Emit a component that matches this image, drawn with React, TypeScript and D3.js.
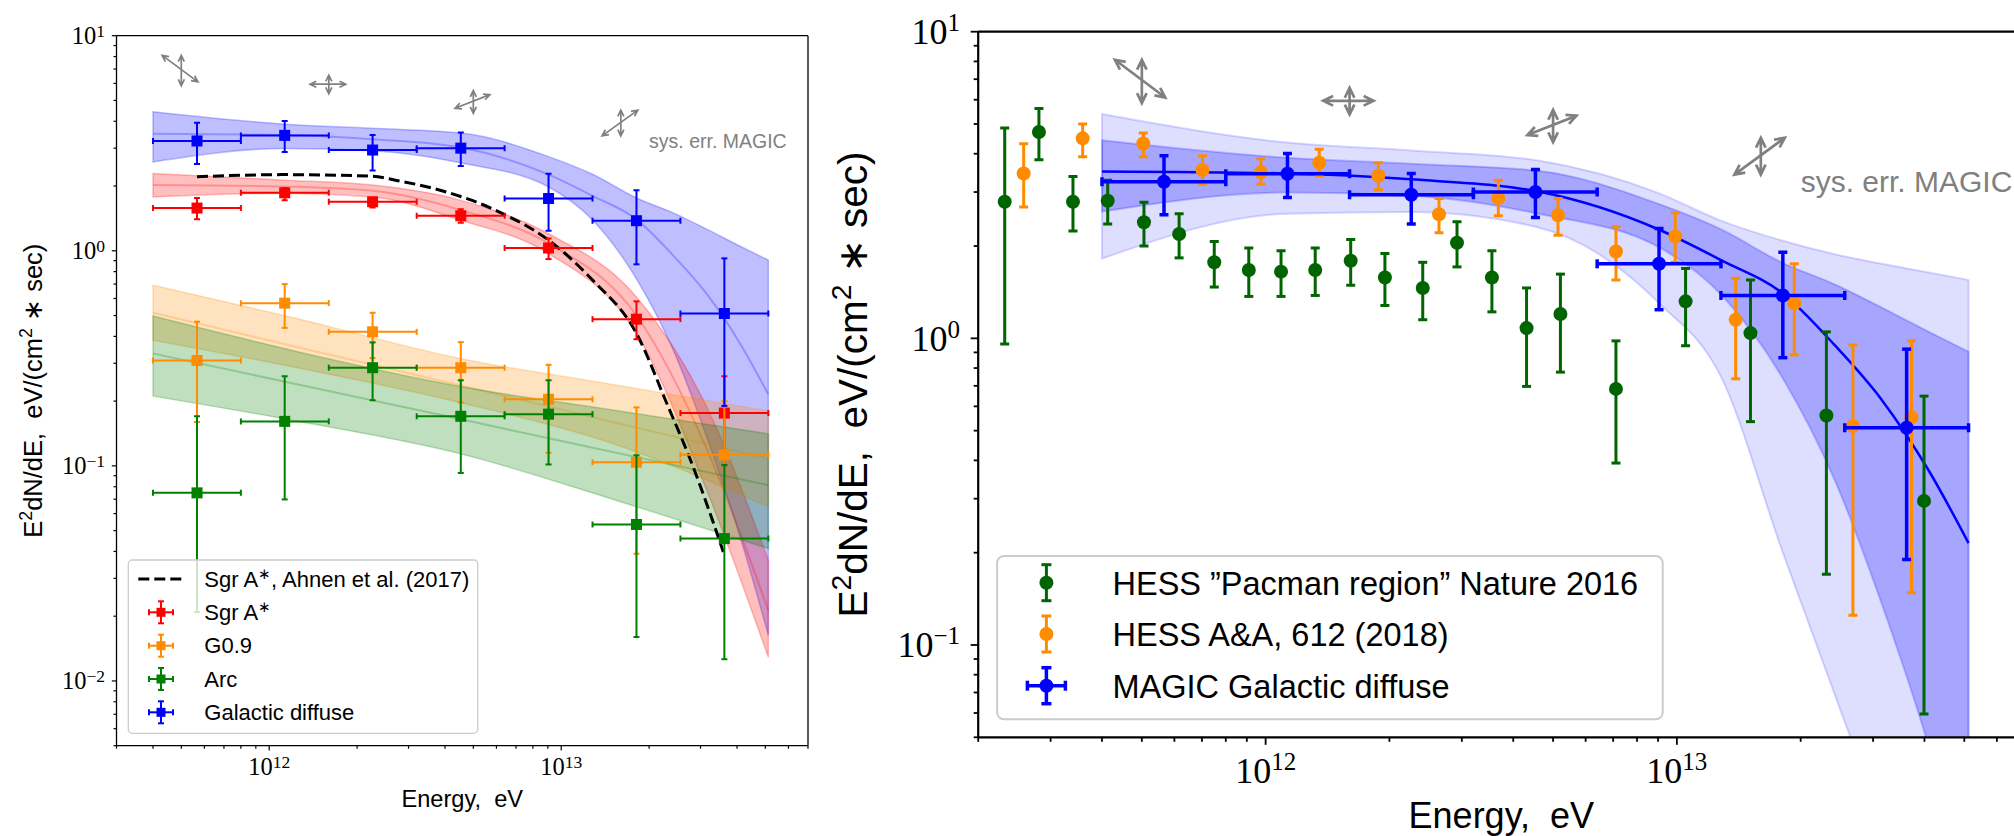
import React from "react";
import * as d3 from "d3";

// ================= MAGIC energy bins (shared by both panels) =================
const binLow = [4e11, 8e11, 1.6e12, 3.2e12, 6.4e12, 1.28e13, 2.56e13];
const binHigh = [8e11, 1.6e12, 3.2e12, 6.4e12, 1.28e13, 2.56e13, 5.12e13];
const binCenter = [5.66e11, 1.13e12, 2.26e12, 4.53e12, 9.05e12, 1.81e13, 3.62e13];

// Sgr A*
const sgrVal = [1.58, 1.86, 1.69, 1.455, 1.03, 0.481, 0.176];
const sgrHi = [1.76, 1.96, 1.75, 1.56, 1.14, 0.582, 0.261];
const sgrLo = [1.4, 1.72, 1.59, 1.35, 0.915, 0.388, 0.1007];
// G0.9
const g09Val = [0.309, 0.571, 0.42, 0.286, 0.204, 0.104, 0.1125];
const g09Hi = [0.468, 0.7, 0.515, 0.376, 0.295, 0.187, 0.2];
const g09Lo = [0.16, 0.438, 0.317, 0.197, 0.115, 0.039, 0.101];
// Arc
const arcVal = [0.0749, 0.161, 0.286, 0.17, 0.174, 0.0534, 0.0459];
const arcHi = [0.17, 0.261, 0.375, 0.25, 0.25, 0.112, 0.101];
const arcLo = [0.0209, 0.0698, 0.202, 0.0927, 0.1015, 0.016, 0.0126];
// Galactic diffuse (MAGIC)
const gdVal = [3.24, 3.44, 2.94, 3.0, 1.75, 1.38, 0.511];
const gdHi = [3.94, 4.01, 3.45, 3.55, 2.28, 1.91, 0.922];
const gdLo = [2.53, 2.88, 2.36, 2.48, 1.24, 0.865, 0.19];

// ================= fit bands =================
const gdBandE = [4e11, 1.13e12, 2.26e12, 4.6e12, 9.06e12, 1.28e13, 1.81e13, 2.42e13, 3.15e13, 4.1e13, 5.12e13];
const gdBandHi = [4.43, 3.88, 3.71, 3.52, 2.74, 2.27, 1.76, 1.5, 1.26, 1.05, 0.905];
const gdBandLo = [2.59, 2.99, 2.92, 2.55, 1.98, 1.39, 0.74, 0.345, 0.136, 0.0467, 0.0163];
const gdFit = [3.5, 3.45, 3.3, 3.01, 2.26, 1.8, 1.4, 0.95, 0.63, 0.37, 0.215];
const gdBand2Hi = [5.39, 4.35, 4.1, 3.8, 2.97, 2.42, 2.08, 1.88, 1.75, 1.64, 1.55];
const gdBand2Lo = [1.82, 2.55, 2.58, 2.3, 1.3, 0.75, 0.2, 0.069, 0.025, 0.006, 0.002];

const sgrBandE = [4e11, 1.13e12, 2.26e12, 4.5e12, 9.06e12, 1.81e13, 3.15e13, 5.12e13];
const sgrBandHi = [2.29, 2.13, 2.02, 1.72, 1.2, 0.61, 0.188, 0.0364];
const sgrBandLo = [1.78, 1.85, 1.78, 1.39, 0.97, 0.413, 0.077, 0.0129];
const sgrFit = [2.02, 1.99, 1.9, 1.55, 1.08, 0.5, 0.12, 0.0213];

const plBandE = [4e11, 1.2e12, 4.5e12, 1.5e13, 5.12e13];
const g09BandHi = [0.692, 0.49, 0.316, 0.239, 0.18];
const g09BandLo = [0.384, 0.289, 0.197, 0.127, 0.0645];
const g09Fit = [0.515, 0.361, 0.237, 0.16, 0.108];
const arcBandHi = [0.497, 0.344, 0.234, 0.182, 0.141];
const arcBandLo = [0.211, 0.163, 0.114, 0.07, 0.0413];
const arcFit = [0.333, 0.242, 0.165, 0.116, 0.0813];

// Sgr A*, Ahnen et al. (2017)
const ahnenE = [5.66e11, 1.13e12, 2.26e12, 2.8e12, 3.65e12, 6.17e12, 9.06e12, 1.28e13, 1.81e13, 2.3e13, 2.83e13, 3.59e13];
const ahnenV = [2.21, 2.26, 2.22, 2.11, 1.95, 1.51, 1.12, 0.731, 0.413, 0.195, 0.099, 0.0398];

// ================= right panel: HESS data =================
const pacE = [2.32e11, 2.81e11, 3.4e11, 4.13e11, 5.06e11, 6.16e11, 7.5e11, 9.1e11, 1.09e12, 1.32e12, 1.61e12, 1.95e12, 2.41e12, 2.92e12, 3.55e12, 4.31e12, 5.21e12, 7.11e12, 1.05e13, 1.51e13, 2.31e13, 3.99e13];
const pacVal = [2.79, 4.71, 2.79, 2.81, 2.39, 2.19, 1.77, 1.67, 1.65, 1.67, 1.79, 1.58, 1.46, 2.05, 1.58, 1.08, 1.2, 0.684, 1.32, 1.04, 0.56, 0.295];
const pacHi = [4.85, 5.62, 3.37, 3.28, 2.78, 2.55, 2.07, 1.97, 1.93, 1.97, 2.1, 1.89, 1.77, 2.4, 1.93, 1.46, 1.62, 0.981, 1.69, 1.55, 1.05, 0.648];
const pacLo = [0.959, 3.82, 2.24, 2.36, 2.0, 1.83, 1.47, 1.37, 1.37, 1.38, 1.49, 1.28, 1.15, 1.71, 1.22, 0.697, 0.776, 0.392, 0.946, 0.535, 0.17, 0.0596];

const aaE = [2.58e11, 3.59e11, 5.04e11, 7.02e11, 9.74e11, 1.35e12, 1.88e12, 2.64e12, 3.68e12, 5.14e12, 7.11e12, 9.91e12, 1.39e13, 1.93e13, 2.68e13, 3.72e13];
const aaVal = [3.45, 4.49, 4.32, 3.54, 3.48, 3.74, 3.39, 2.54, 2.87, 2.52, 1.92, 2.15, 1.15, 1.3, 0.518, 0.553];
const aaHi = [4.31, 5.0, 4.67, 3.94, 3.85, 4.14, 3.74, 2.86, 3.28, 2.86, 2.31, 2.57, 1.57, 1.75, 0.951, 0.982];
const aaLo = [2.68, 3.91, 3.91, 3.18, 3.18, 3.39, 3.05, 2.21, 2.51, 2.17, 1.55, 1.77, 0.738, 0.883, 0.125, 0.148];

// ================= systematic error glyphs (data coords) =================
const sysFromE = [4.3e11, 5.0e11, 1.38e12, 1.6e12, 4.33e12, 5.0e12, 1.38e13, 1.6e13];
const sysFromV = [8.1, 8.1, 5.95, 6.56, 4.6, 5.56, 3.42, 4.51];
const sysToE = [5.7e11, 5.0e11, 1.83e12, 1.6e12, 5.7e12, 5.0e12, 1.83e13, 1.6e13];
const sysToV = [6.1, 5.85, 5.95, 5.37, 5.32, 4.36, 4.51, 3.42];
const sysTextE = 2.0e13;
const sysTextV = 3.0;

const BLUE = "#0000ff";
const RED = "#ff0000";
const ORANGE = "#ff8c00";
const GREEN = "#008000";
const DGREEN = "#006400";
const GRAY = "#808080";
const SANS = "'Liberation Sans', Arial, sans-serif";
const SERIF = "'Liberation Serif', 'Times New Roman', serif";

function areaPath(E, lo, hi, xs, ys) {
  return (
    d3
      .area()
      .x((i) => xs(E[i]))
      .y0((i) => ys(lo[i]))
      .y1((i) => ys(hi[i]))
      .curve(d3.curveMonotoneX)(d3.range(E.length)) || ""
  );
}
function linePath(E, V, xs, ys) {
  return (
    d3
      .line()
      .x((i) => xs(E[i]))
      .y((i) => ys(V[i]))
      .curve(d3.curveMonotoneX)(d3.range(E.length)) || ""
  );
}

function dblArrow(x1, y1, x2, y2, h, ang) {
  const dx = x2 - x1, dy = y2 - y1;
  const len = Math.hypot(dx, dy);
  const ux = dx / len, uy = dy / len;
  const head = (px, py, vx, vy) => {
    const c = Math.cos(ang), s = Math.sin(ang);
    const ax = vx * c - vy * s, ay = vx * s + vy * c;
    const bx = vx * c + vy * s, by = -vx * s + vy * c;
    return `M${px + ax * h},${py + ay * h}L${px},${py}L${px + bx * h},${py + by * h}`;
  };
  return `M${x1},${y1}L${x2},${y2}` + head(x2, y2, -ux, -uy) + head(x1, y1, ux, uy);
}

function ErrPt({ cx, cy, xa, xb, ya, yb, color, lw, cap, shape, ms }) {
  return (
    <g>
      {xa !== undefined && (
        <g stroke={color} strokeWidth={lw}>
          <line x1={xa} x2={xb} y1={cy} y2={cy} />
          <line x1={xa} x2={xa} y1={cy - cap} y2={cy + cap} />
          <line x1={xb} x2={xb} y1={cy - cap} y2={cy + cap} />
        </g>
      )}
      {ya !== undefined && (
        <g stroke={color} strokeWidth={lw}>
          <line x1={cx} x2={cx} y1={ya} y2={yb} />
          <line x1={cx - cap} x2={cx + cap} y1={ya} y2={ya} />
          <line x1={cx - cap} x2={cx + cap} y1={yb} y2={yb} />
        </g>
      )}
      {shape === "square" ? (
        <rect x={cx - ms / 2} y={cy - ms / 2} width={ms} height={ms} fill={color} />
      ) : (
        <circle cx={cx} cy={cy} r={ms / 2} fill={color} />
      )}
    </g>
  );
}

const isMajor = (t) => Math.abs(Math.log10(t) - Math.round(Math.log10(t))) < 1e-9;
const expStr = (t) => {
  const e = Math.round(Math.log10(t));
  return e < 0 ? "\u2212" + Math.abs(e) : String(e);
};

function Axes({ box, xs, ys, sw, majLen, minLen, tw, xfs, xexp, xraise, xbase, yfs, yexp, yraise, yAnchorX, yOff, rightSpine }) {
  const xt = xs.ticks();
  const yt = ys.ticks();
  return (
    <g>
      <g stroke="#000" strokeWidth={tw}>
        {xt.map((t, i) => (
          <line key={"x" + i} x1={xs(t)} x2={xs(t)} y1={box.y1} y2={box.y1 + (isMajor(t) ? majLen : minLen)} />
        ))}
        {yt.map((t, i) => (
          <line key={"y" + i} x1={box.x0} x2={box.x0 - (isMajor(t) ? majLen : minLen)} y1={ys(t)} y2={ys(t)} />
        ))}
      </g>
      <g fill="none" stroke="#000" strokeWidth={sw}>
        <line x1={box.x0} x2={box.x0} y1={box.y0} y2={box.y1} />
        <line x1={box.x0} x2={box.x1} y1={box.y1} y2={box.y1} />
        <line x1={box.x0} x2={box.x1} y1={box.y0} y2={box.y0} />
        {rightSpine && <line x1={box.x1} x2={box.x1} y1={box.y0} y2={box.y1} />}
      </g>
      <g fontFamily={SERIF} fill="#000">
        {xt.filter(isMajor).map((t, i) => (
          <text key={"xl" + i} x={xs(t)} y={xbase} fontSize={xfs} textAnchor="middle">
            10
            <tspan dy={-xraise} fontSize={xexp}>{expStr(t)}</tspan>
          </text>
        ))}
        {yt.filter(isMajor).map((t, i) => (
          <text key={"yl" + i} x={yAnchorX} y={ys(t) + yOff} fontSize={yfs} textAnchor="end">
            10
            <tspan dy={-yraise} fontSize={yexp}>{expStr(t)}</tspan>
          </text>
        ))}
      </g>
    </g>
  );
}

function YLabel({ x, y, fs }) {
  const r = fs * 0.38;
  return (
    <text transform={`translate(${x},${y}) rotate(-90)`} fontSize={fs} textAnchor="middle" fontFamily={SANS} style={{ whiteSpace: "pre" }}>
      E<tspan dy={-r} fontSize={fs * 0.7}>2</tspan>
      <tspan dy={r}>dN/dE,  eV/(cm</tspan>
      <tspan dy={-r} fontSize={fs * 0.7}>2</tspan>
      <tspan dy={r}>{" \u2217 sec)"}</tspan>
    </text>
  );
}

export default function App() {
  const L = { x0: 116.5, x1: 808, y0: 35.7, y1: 745.7 };
  const R = { x0: 978.2, x1: 2024.4, y0: 31.7, y1: 737.3 };
  const xL = d3.scaleLog().domain([3e11, 7e13]).range([L.x0, L.x1]);
  const yL = d3.scaleLog().domain([0.005, 10]).range([L.y1, L.y0]);
  const xR = d3.scaleLog().domain([2e11, 7e13]).range([R.x0, R.x1]);
  const yR = d3.scaleLog().domain([0.05, 10]).range([R.y1, R.y0]);

  const leftSeries = [
    { val: sgrVal, hi: sgrHi, lo: sgrLo, color: RED },
    { val: g09Val, hi: g09Hi, lo: g09Lo, color: ORANGE },
    { val: arcVal, hi: arcHi, lo: arcLo, color: GREEN },
    { val: gdVal, hi: gdHi, lo: gdLo, color: BLUE },
  ];
  const leftBands = [
    { E: gdBandE, hi: gdBandHi, lo: gdBandLo, fit: gdFit, rgb: "0,0,255" },
    { E: sgrBandE, hi: sgrBandHi, lo: sgrBandLo, fit: sgrFit, rgb: "255,0,0" },
    { E: plBandE, hi: g09BandHi, lo: g09BandLo, fit: g09Fit, rgb: "255,140,0" },
    { E: plBandE, hi: arcBandHi, lo: arcBandLo, fit: arcFit, rgb: "0,128,0" },
  ];

  const sysIdx = d3.range(sysFromE.length);

  const legL = { x: 128.3, y: 560, w: 349.4, h: 173.3, mx: 161, tx: 204.3, rows: [579, 612.3, 645.7, 679, 712.3] };
  const legR = { x: 997.1, y: 556, w: 665.6, h: 163.3, mx: 1046.4, tx: 1112.5, rows: [582.7, 634, 685.7] };

  return (
    <svg width={2014} height={836} style={{ position: "absolute", left: 0, top: 0 }} fontFamily={SANS}>
      <rect x={0} y={0} width={2014} height={836} fill="#fff" />
      <defs>
        <clipPath id="clipL">
          <rect x={L.x0} y={L.y0} width={L.x1 - L.x0} height={L.y1 - L.y0} />
        </clipPath>
        <clipPath id="clipR">
          <rect x={R.x0} y={R.y0} width={R.x1 - R.x0} height={R.y1 - R.y0} />
        </clipPath>
      </defs>

      {/* ====================== LEFT PANEL ====================== */}
      <g clipPath="url(#clipL)">
        {leftBands.map((b, i) => (
          <g key={"bl" + i}>
            <path d={areaPath(b.E, b.lo, b.hi, xL, yL)} fill={`rgba(${b.rgb},0.25)`} stroke={`rgba(${b.rgb},0.25)`} strokeWidth={1.5} />
            <path d={linePath(b.E, b.fit, xL, yL)} fill="none" stroke={`rgba(${b.rgb},0.25)`} strokeWidth={2} />
          </g>
        ))}
        <path d={linePath(ahnenE, ahnenV, xL, yL)} fill="none" stroke="#000" strokeWidth={3} strokeDasharray="11,5" />
        {leftSeries.map((s, si) =>
          s.val.map((v, i) => (
            <ErrPt
              key={si + "-" + i}
              cx={xL(binCenter[i])}
              cy={yL(v)}
              xa={xL(binLow[i])}
              xb={xL(binHigh[i])}
              ya={yL(s.hi[i])}
              yb={yL(s.lo[i])}
              color={s.color}
              lw={2}
              cap={3}
              shape="square"
              ms={11}
            />
          ))
        )}
        {sysIdx.map((i) => (
          <path
            key={"sa" + i}
            d={dblArrow(xL(sysFromE[i]), yL(sysFromV[i]), xL(sysToE[i]), yL(sysToV[i]), 7, 0.45)}
            fill="none"
            stroke={GRAY}
            strokeWidth={1.7}
          />
        ))}
        <text x={xL(sysTextE)} y={yL(sysTextV)} fontSize={19.5} fill={GRAY}>sys. err. MAGIC</text>
      </g>
      <Axes
        box={L} xs={xL} ys={yL} sw={1.3} majLen={4.7} minLen={3} tw={1.2}
        xfs={24.5} xexp={17.5} xraise={7} xbase={775}
        yfs={24.5} yexp={17.5} yraise={7} yAnchorX={105} yOff={8.3}
        rightSpine={true}
      />
      <text x={(L.x0 + L.x1) / 2} y={806.7} fontSize={23.6} textAnchor="middle" style={{ whiteSpace: "pre" }}>Energy,  eV</text>
      <YLabel x={41.7} y={(L.y0 + L.y1) / 2} fs={25.5} />

      {/* left legend */}
      <g>
        <rect x={legL.x} y={legL.y} width={legL.w} height={legL.h} rx={4} fill="rgba(255,255,255,0.8)" stroke="#cccccc" strokeWidth={1.3} />
        <line x1={138.3} x2={185} y1={legL.rows[0]} y2={legL.rows[0]} stroke="#000" strokeWidth={3} strokeDasharray="11,5" />
        {leftSeries.map((s, i) => (
          <ErrPt key={"ll" + i} cx={legL.mx} cy={legL.rows[i + 1]} xa={legL.mx - 12} xb={legL.mx + 12} ya={legL.rows[i + 1] - 11} yb={legL.rows[i + 1] + 11} color={s.color} lw={2} cap={3} shape="square" ms={9} />
        ))}
        <g fontSize={22} fill="#000" style={{ whiteSpace: "pre" }}>
          <text x={legL.tx} y={legL.rows[0] + 7.7}>
            Sgr A<tspan dy={-8} fontSize={15}>{"\u2217"}</tspan>
            <tspan dy={8}>,  Ahnen et al. (2017)</tspan>
          </text>
          <text x={legL.tx} y={legL.rows[1] + 7.7}>
            Sgr A<tspan dy={-8} fontSize={15}>{"\u2217"}</tspan>
          </text>
          <text x={legL.tx} y={legL.rows[2] + 7.7}>G0.9</text>
          <text x={legL.tx} y={legL.rows[3] + 7.7}>Arc</text>
          <text x={legL.tx} y={legL.rows[4] + 7.7}>Galactic diffuse</text>
        </g>
      </g>

      {/* ====================== RIGHT PANEL ====================== */}
      <g clipPath="url(#clipR)">
        <path d={areaPath(gdBandE, gdBand2Lo, gdBand2Hi, xR, yR)} fill="rgba(0,0,255,0.13)" stroke="rgba(0,0,255,0.15)" strokeWidth={2} />
        <path d={areaPath(gdBandE, gdBandLo, gdBandHi, xR, yR)} fill="rgba(0,0,255,0.25)" stroke="rgba(0,0,255,0.2)" strokeWidth={2} />
        <path d={linePath(gdBandE, gdFit, xR, yR)} fill="none" stroke={BLUE} strokeWidth={2.5} />
        {pacVal.map((v, i) => (
          <ErrPt key={"pc" + i} cx={xR(pacE[i])} cy={yR(v)} ya={yR(pacHi[i])} yb={yR(pacLo[i])} color={DGREEN} lw={3} cap={4.5} shape="circle" ms={14} />
        ))}
        {aaVal.map((v, i) => (
          <ErrPt key={"aa" + i} cx={xR(aaE[i])} cy={yR(v)} ya={yR(aaHi[i])} yb={yR(aaLo[i])} color={ORANGE} lw={3} cap={4.5} shape="circle" ms={14} />
        ))}
        {gdVal.map((v, i) => (
          <ErrPt key={"gr" + i} cx={xR(binCenter[i])} cy={yR(v)} xa={xR(binLow[i])} xb={xR(binHigh[i])} ya={yR(gdHi[i])} yb={yR(gdLo[i])} color={BLUE} lw={3.5} cap={4.5} shape="circle" ms={14} />
        ))}
        {sysIdx.map((i) => (
          <path
            key={"sr" + i}
            d={dblArrow(xR(sysFromE[i]), yR(sysFromV[i]), xR(sysToE[i]), yR(sysToV[i]), 11, 0.45)}
            fill="none"
            stroke={GRAY}
            strokeWidth={2.7}
          />
        ))}
        <text x={xR(sysTextE)} y={yR(sysTextV)} fontSize={30} fill={GRAY}>sys. err. MAGIC</text>
      </g>
      <Axes
        box={R} xs={xR} ys={yR} sw={2.2} majLen={7.5} minLen={4.5} tw={1.8}
        xfs={36} xexp={25} xraise={13} xbase={783.3}
        yfs={36} yexp={25} yraise={13} yAnchorX={960} yOff={12.5}
        rightSpine={false}
      />
      <text x={(R.x0 + R.x1) / 2} y={828} fontSize={36} textAnchor="middle" style={{ whiteSpace: "pre" }}>Energy,  eV</text>
      <YLabel x={866.7} y={(R.y0 + R.y1) / 2} fs={40.5} />

      {/* right legend */}
      <g>
        <rect x={legR.x} y={legR.y} width={legR.w} height={legR.h} rx={7} fill="rgba(255,255,255,0.8)" stroke="#cccccc" strokeWidth={2} />
        <ErrPt cx={legR.mx} cy={legR.rows[0]} ya={legR.rows[0] - 18} yb={legR.rows[0] + 18} color={DGREEN} lw={3} cap={5} shape="circle" ms={14} />
        <ErrPt cx={legR.mx} cy={legR.rows[1]} ya={legR.rows[1] - 18} yb={legR.rows[1] + 18} color={ORANGE} lw={3} cap={5} shape="circle" ms={14} />
        <ErrPt cx={legR.mx} cy={legR.rows[2]} xa={legR.mx - 19} xb={legR.mx + 19} ya={legR.rows[2] - 18} yb={legR.rows[2] + 18} color={BLUE} lw={3.5} cap={5} shape="circle" ms={14} />
        <g fontSize={32.5} fill="#000" style={{ whiteSpace: "pre" }}>
          <text x={legR.tx} y={legR.rows[0] + 12}>{"HESS \u201DPacman region\u201D  Nature 2016"}</text>
          <text x={legR.tx} y={legR.rows[1] + 12}>HESS A&amp;A,  612 (2018)</text>
          <text x={legR.tx} y={legR.rows[2] + 12}>MAGIC Galactic diffuse</text>
        </g>
      </g>
    </svg>
  );
}
